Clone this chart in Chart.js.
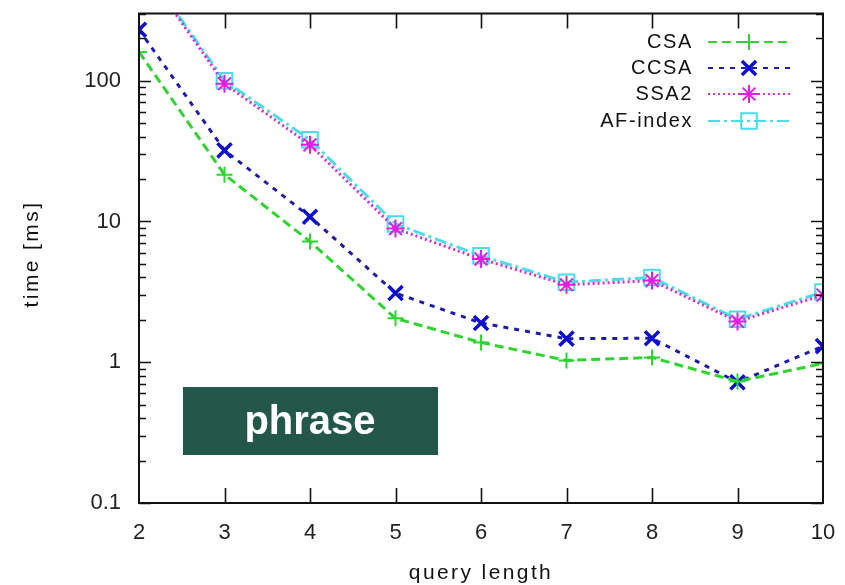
<!DOCTYPE html>
<html>
<head>
<meta charset="utf-8">
<script src="https://cdn.jsdelivr.net/npm/chart.js@4.4.1/dist/chart.umd.min.js"></script>
<style>
  html, body { margin: 0; padding: 0; background: #fff; }
  #wrap { width: 845px; height: 585px; }
</style>
</head>
<body>
<div id="wrap"><canvas id="timeChart" width="845" height="585"></canvas></div>
<script>
// query length on the x axis
const queryLengths = [2, 3, 4, 5, 6, 7, 8, 9, 10];

// time [ms] per index
const csaTimes   = [160, 21.5, 7.2, 2.05, 1.38, 1.03, 1.08, 0.73, 0.98];
const ccsaTimes  = [230, 32, 10.8, 3.1, 1.9, 1.47, 1.48, 0.72, 1.3];
const ssa2Times  = [700, 95, 35, 8.9, 5.4, 3.55, 3.8, 1.95, 3.0];
const afIdxTimes = [720, 100, 38, 9.6, 5.7, 3.7, 4.0, 2.02, 3.15];

const yTickValues = [0.1, 1, 10, 100];
const fontFamily = '"Liberation Sans", Arial, Helvetica, sans-serif';

function toPoints(vals) {
    return queryLengths.map((x, i) => ({ x: x, y: vals[i] }));
}

const seriesDefs = [
    { label: 'CSA', data: csaTimes, color: '#2fd42f', markColor: '#2fd42f', dash: [9, 5], style: 'cross', radius: 8, markWidth: 2 },
    { label: 'CCSA', data: ccsaTimes, color: '#1c1ca8', markColor: '#0d0dd0', dash: [5, 6], style: 'crossRot', radius: 10, markWidth: 3.5 },
    { label: 'SSA2', data: ssa2Times, color: '#d030d0', markColor: '#e020e0', dash: [2, 3], style: 'star', radius: 9, markWidth: 2 },
    { label: 'AF-index', data: afIdxTimes, color: '#48dde8', markColor: '#48dde8', dash: [12, 4, 3, 4], style: 'rect', radius: 11, markWidth: 2 }
];

// frame, inward ticks, legend, axis titles and the label box
const decorPlugin = {
    id: 'decor',
    afterDraw(chart) {
        const ctx = chart.ctx;
        const area = chart.chartArea;
        const xs = chart.scales.x;
        const ys = chart.scales.y;
        ctx.save();

        ctx.strokeStyle = '#111';
        ctx.lineWidth = 2;
        ctx.setLineDash([]);
        ctx.strokeRect(area.left, area.top, area.right - area.left, area.bottom - area.top);

        // x ticks, top and bottom
        ctx.lineWidth = 1.6;
        ctx.beginPath();
        for (let v = 3; v <= 9; v++) {
            const px = Math.round(xs.getPixelForValue(v)) + 0.5;
            ctx.moveTo(px, area.bottom); ctx.lineTo(px, area.bottom - 15);
            ctx.moveTo(px, area.top); ctx.lineTo(px, area.top + 15);
        }
        // y ticks (log major + minor) on both sides
        yTickValues.forEach(d => {
            for (let m = 1; m <= 9; m++) {
                const v = d * m;
                if (v > ys.max) break;
                const py = Math.round(ys.getPixelForValue(v)) + 0.5;
                const len = m === 1 ? 12 : 7;
                ctx.moveTo(area.left, py); ctx.lineTo(area.left + len, py);
                ctx.moveTo(area.right, py); ctx.lineTo(area.right - len, py);
            }
        });
        ctx.stroke();

        // legend
        const rowY = [42, 68, 94, 121];
        ctx.font = '20px ' + fontFamily;
        ctx.letterSpacing = '1.6px';
        ctx.textAlign = 'right';
        ctx.textBaseline = 'middle';
        seriesDefs.forEach((s, i) => {
            const y = rowY[i];
            ctx.fillStyle = '#111';
            ctx.fillText(s.label, 693, y);
            ctx.strokeStyle = s.color;
            ctx.lineWidth = 2;
            ctx.setLineDash(s.dash);
            ctx.beginPath();
            ctx.moveTo(708, y); ctx.lineTo(790, y);
            ctx.stroke();
            ctx.setLineDash([]);
            ctx.strokeStyle = s.markColor;
            ctx.fillStyle = 'rgba(0,0,0,0)';
            ctx.lineWidth = s.markWidth;
            Chart.helpers.drawPoint(ctx, { pointStyle: s.style, radius: s.radius, rotation: 0, borderWidth: s.markWidth }, 749, y);
        });

        // axis titles
        ctx.fillStyle = '#111';
        ctx.textAlign = 'center';
        ctx.font = '21px ' + fontFamily;
        ctx.letterSpacing = '2.4px';
        ctx.fillText('query length', 481, 573);
        ctx.save();
        ctx.translate(32, 254);
        ctx.rotate(-Math.PI / 2);
        ctx.fillText('time [ms]', 0, 0);
        ctx.restore();

        // label box
        ctx.letterSpacing = '0px';
        ctx.fillStyle = '#22574a';
        ctx.fillRect(183, 387, 255, 68);
        ctx.fillStyle = '#ffffff';
        ctx.font = 'bold 40px ' + fontFamily;
        ctx.fillText('phrase', 310, 423);

        ctx.restore();
    }
};

const chart = new Chart(document.getElementById('timeChart'), {
    type: 'line',
    data: {
        datasets: seriesDefs.map(s => ({
            label: s.label,
            data: toPoints(s.data),
            borderColor: s.color,
            borderWidth: 3,
            borderDash: s.dash,
            tension: 0,
            fill: false,
            pointStyle: s.style,
            pointRadius: s.radius,
            pointBorderWidth: s.markWidth,
            pointBorderColor: s.markColor,
            pointBackgroundColor: 'rgba(0,0,0,0)'
        }))
    },
    options: {
        responsive: false,
        animation: false,
        events: [],
        layout: { padding: { left: 0, right: 22, top: 12, bottom: 0 } },
        plugins: { legend: { display: false }, tooltip: { enabled: false } },
        scales: {
            x: {
                type: 'linear',
                min: 2,
                max: 10,
                border: { display: false },
                grid: { display: false, drawTicks: false },
                ticks: {
                    stepSize: 1,
                    padding: 17,
                    color: '#222',
                    font: { family: fontFamily, size: 22 }
                },
                afterFit(scale) {
                    scale.height = 82;
                    scale.paddingLeft = 0;
                    scale.paddingRight = 0;
                }
            },
            y: {
                type: 'logarithmic',
                min: 0.1,
                max: 300,
                border: { display: false },
                grid: { display: false, drawTicks: false },
                afterBuildTicks(scale) {
                    scale.ticks = yTickValues.map(v => ({ value: v }));
                },
                ticks: {
                    padding: 18,
                    color: '#222',
                    font: { family: fontFamily, size: 22 },
                    callback: v => String(v)
                },
                afterFit(scale) {
                    scale.width = 139;
                    scale.paddingTop = 0;
                    scale.paddingBottom = 0;
                }
            }
        }
    },
    plugins: [decorPlugin]
});
</script>
</body>
</html>
